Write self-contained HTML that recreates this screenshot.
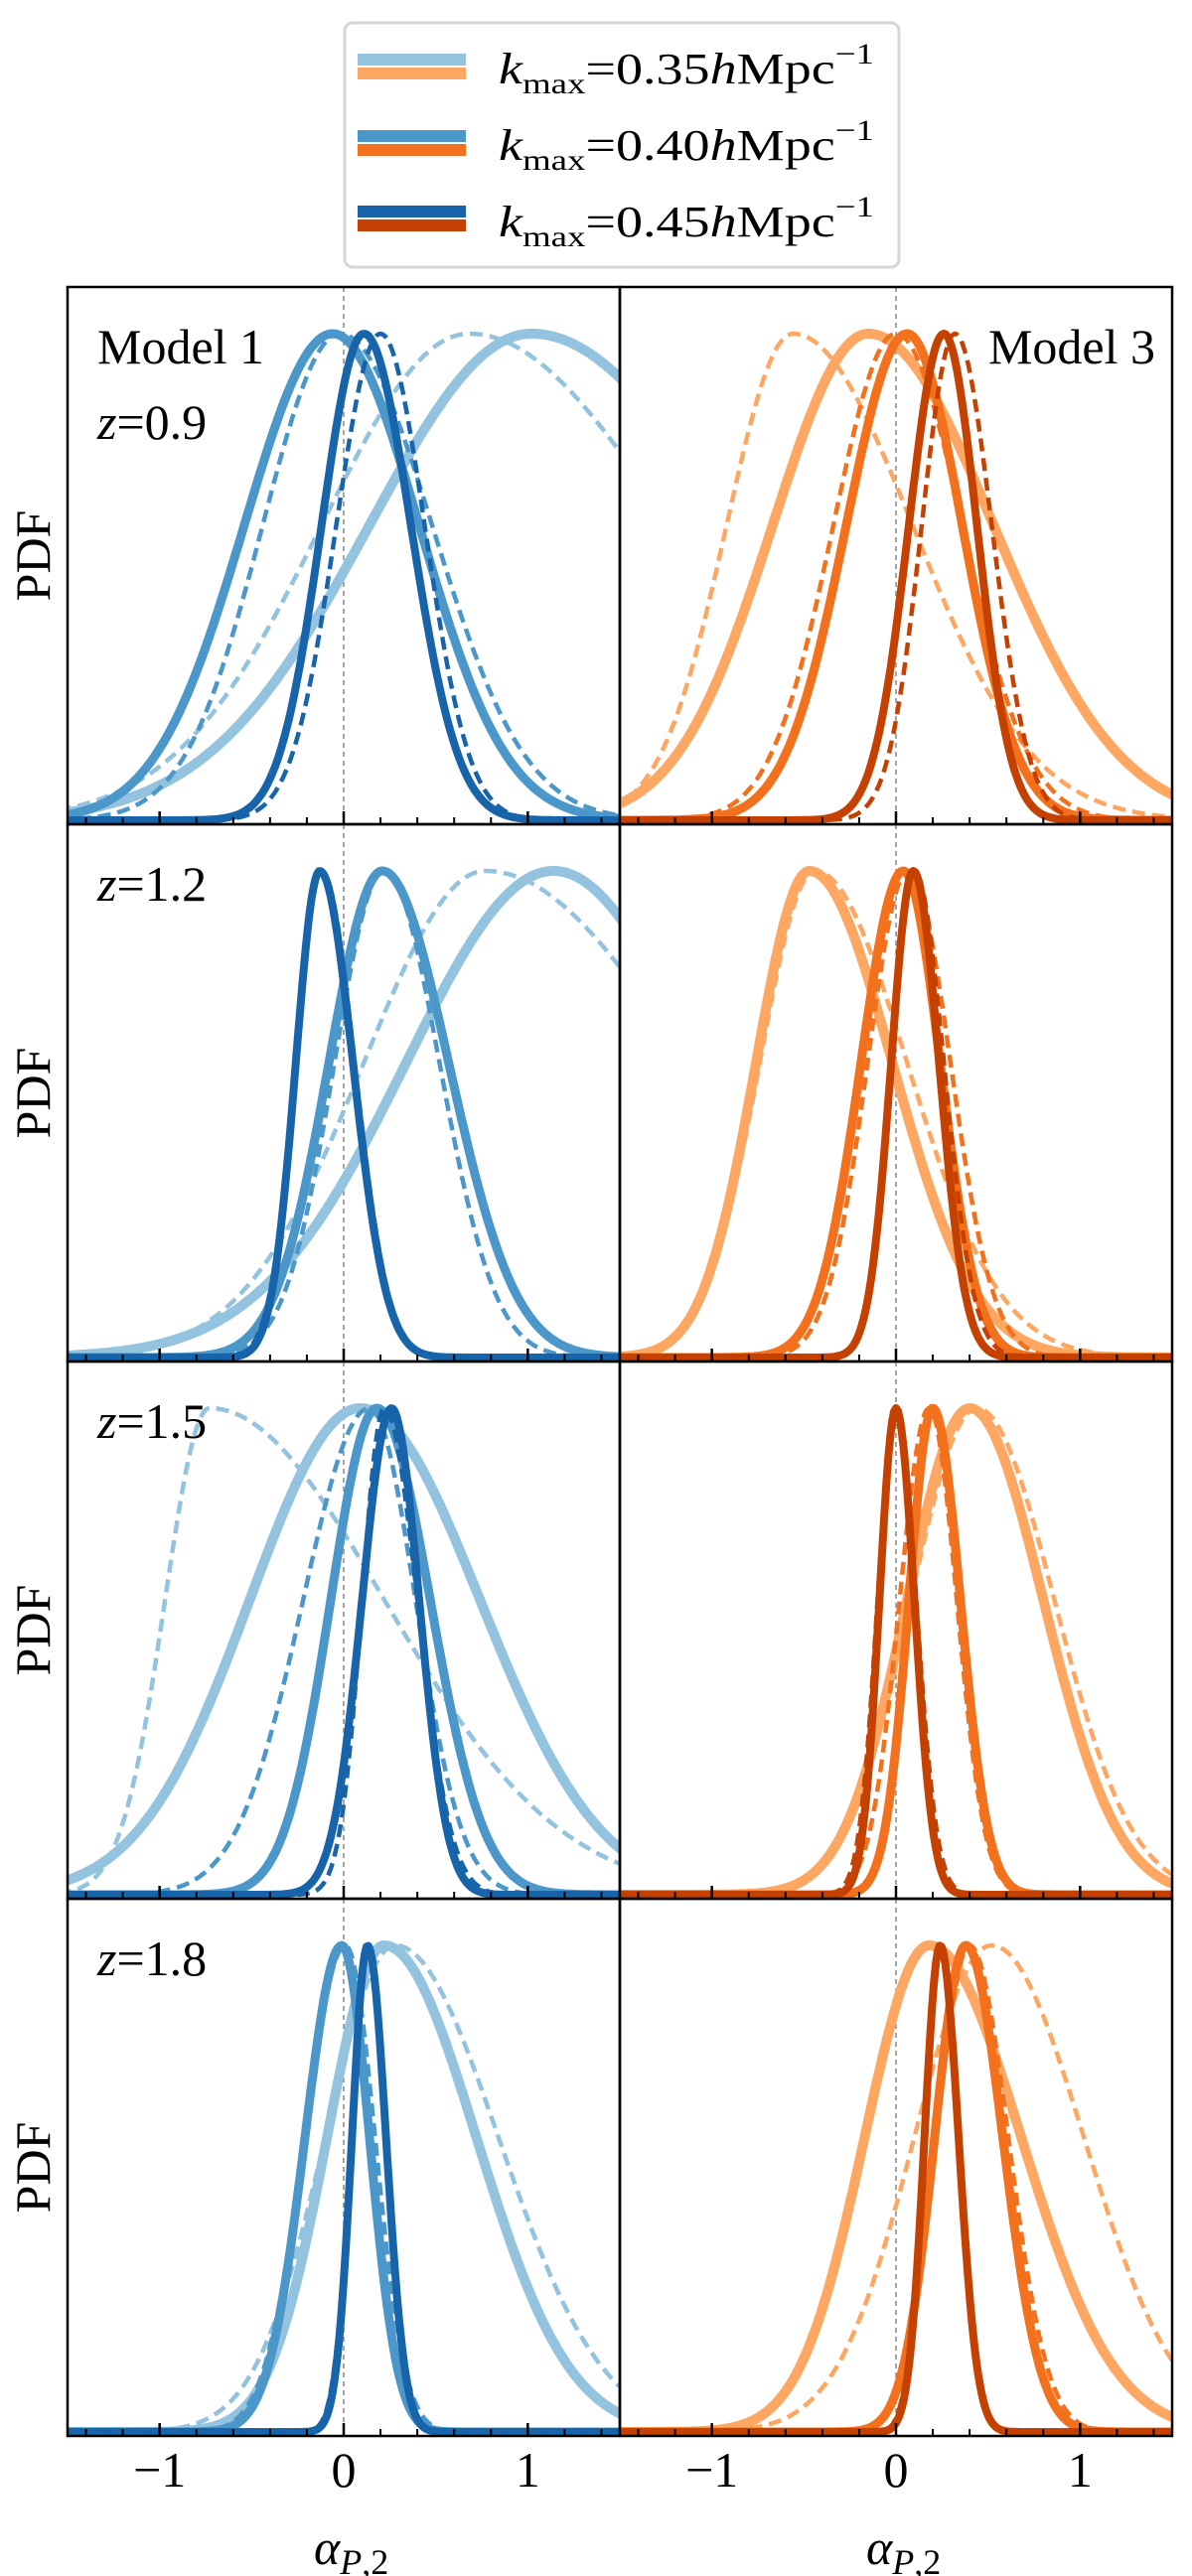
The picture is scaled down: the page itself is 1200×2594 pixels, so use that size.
<!DOCTYPE html>
<html><head><meta charset="utf-8"><style>
html,body{margin:0;padding:0;background:#fff;}
svg{display:block;}
text{font-family:"Liberation Serif",serif;fill:#000;}
</style></head><body>
<svg id="fig" width="1200" height="2594" viewBox="0 0 1200 2594" xmlns="http://www.w3.org/2000/svg">
<g id="legend">
  <rect x="347" y="23" width="558" height="246" rx="8" fill="#fff" stroke="#d6d6d6" stroke-width="3"/>
  <rect x="360" y="54" width="109" height="12" fill="#93c3df"/><rect x="360" y="68" width="109" height="12" fill="#fda762"/>
  <rect x="360" y="131" width="109" height="12" fill="#4b97c9"/><rect x="360" y="145" width="109" height="12" fill="#f3711c"/>
  <rect x="360" y="207" width="109" height="12" fill="#1764ab"/><rect x="360" y="221" width="109" height="12" fill="#c54102"/>
  <text x="502" y="84" font-size="44" textLength="378" lengthAdjust="spacingAndGlyphs"><tspan font-style="italic">k</tspan><tspan font-size="30" dy="10">max</tspan><tspan dy="-10">=0.35</tspan><tspan font-style="italic">h</tspan><tspan>Mpc</tspan><tspan font-size="30" dy="-20">−1</tspan></text>
  <text x="502" y="161" font-size="44" textLength="378" lengthAdjust="spacingAndGlyphs"><tspan font-style="italic">k</tspan><tspan font-size="30" dy="10">max</tspan><tspan dy="-10">=0.40</tspan><tspan font-style="italic">h</tspan><tspan>Mpc</tspan><tspan font-size="30" dy="-20">−1</tspan></text>
  <text x="502" y="238" font-size="44" textLength="378" lengthAdjust="spacingAndGlyphs"><tspan font-style="italic">k</tspan><tspan font-size="30" dy="10">max</tspan><tspan dy="-10">=0.45</tspan><tspan font-style="italic">h</tspan><tspan>Mpc</tspan><tspan font-size="30" dy="-20">−1</tspan></text>
</g>
<g id="panels"></g>
</svg>
<script>
// x ticks
const majorTicks = [-1, 0, 1];
const minorTicks = [-1.4,-1.2,-0.8,-0.6,-0.4,-0.2,0.2,0.4,0.6,0.8,1.2,1.4];
const zLabels = ["0.9","1.2","1.5","1.8"];
const modelLabels = ["Model 1","Model 3"];
// curve order: light solid, light dashed, mid solid, mid dashed, dark solid, dark dashed
const m1z09Mu = [1.02, 0.68, -0.06, -0.02, 0.11, 0.20];
const m1z09SL = [0.88, 0.8, 0.48, 0.42, 0.23, 0.24];
const m1z09SR = [1.1, 1.1, 0.47, 0.5, 0.255, 0.24];
const m1z12Mu = [1.14, 0.77, 0.21, 0.22, -0.13, -0.12];
const m1z12SL = [0.8, 0.66, 0.29, 0.27, 0.13, 0.14];
const m1z12SR = [0.8, 1.1, 0.36, 0.3, 0.18, 0.18];
const m1z15Mu = [0.09, -0.73, 0.18, 0.14, 0.26, 0.22];
const m1z15SL = [0.6, 0.24, 0.25, 0.36, 0.16, 0.12];
const m1z15SR = [0.65, 0.95, 0.29, 0.25, 0.15, 0.18];
const m1z18Mu = [0.22, 0.28, -0.01, 0.01, 0.13, 0.13];
const m1z18SL = [0.31, 0.38, 0.2, 0.22, 0.085, 0.09];
const m1z18SR = [0.5, 0.56, 0.15, 0.16, 0.1, 0.1];
const m3z09Mu = [-0.15, -0.56, 0.06, 0.0, 0.26, 0.32];
const m3z09SL = [0.52, 0.36, 0.33, 0.34, 0.19, 0.18];
const m3z09SR = [0.68, 0.65, 0.3, 0.36, 0.18, 0.2];
const m3z12Mu = [-0.47, -0.44, 0.04, 0.066, 0.094, 0.1];
const m3z12SL = [0.29, 0.3, 0.23, 0.22, 0.12, 0.12];
const m3z12SR = [0.45, 0.5, 0.2, 0.23, 0.14, 0.16];
const m3z15Mu = [0.4, 0.44, 0.2, 0.18, 0.0, 0.0];
const m3z15SL = [0.34, 0.36, 0.13, 0.16, 0.09, 0.1];
const m3z15SR = [0.4, 0.42, 0.15, 0.15, 0.1, 0.11];
const m3z18Mu = [0.18, 0.52, 0.38, 0.4, 0.24, 0.24];
const m3z18SL = [0.35, 0.42, 0.17, 0.18, 0.085, 0.09];
const m3z18SR = [0.5, 0.5, 0.2, 0.21, 0.1, 0.1];

const panelSets = [
  [[m1z09Mu,m1z09SL,m1z09SR],[m3z09Mu,m3z09SL,m3z09SR]],
  [[m1z12Mu,m1z12SL,m1z12SR],[m3z12Mu,m3z12SL,m3z12SR]],
  [[m1z15Mu,m1z15SL,m1z15SR],[m3z15Mu,m3z15SL,m3z15SR]],
  [[m1z18Mu,m1z18SL,m1z18SR],[m3z18Mu,m3z18SL,m3z18SR]]
];
const blues = ["#93c3df","#93c3df","#4b97c9","#4b97c9","#1764ab","#1764ab"];
const oranges = ["#fda762","#fda762","#f3711c","#f3711c","#c54102","#c54102"];
const dashed = [false,true,false,true,false,true];
const widths = [10,4.5,9,4.5,8,4.5];
const seriesNames = ["kmax-035-solid","kmax-035-dashed","kmax-040-solid","kmax-040-dashed","kmax-045-solid","kmax-045-dashed"];

const NS = "http://www.w3.org/2000/svg";
const g = document.getElementById("panels");
const PX0 = [68, 624], PW = 556, TOP0 = 289, PH = 541;
function mk(tag, attrs){const e=document.createElementNS(NS,tag);for(const k in attrs)e.setAttribute(k,attrs[k]);return e;}
function xScale(c, u){return PX0[c] + (u + 1.5) / 3 * PW;}
function yScale(r, h){return TOP0 + (r + 1) * PH - 4 - h * 490;}
function pdf(u, mu, sl, sr){const s = u < mu ? sl : sr; return Math.exp(-0.5 * ((u - mu) / s) ** 2);}

const defs = mk("defs", {});
g.appendChild(defs);
for (let r = 0; r < 4; r++) {
  for (let c = 0; c < 2; c++) {
    const x0 = PX0[c], y0 = TOP0 + r * PH;
    const cp = mk("clipPath", {id: "cp" + r + c});
    cp.appendChild(mk("rect", {x: x0, y: y0, width: PW, height: PH}));
    defs.appendChild(cp);
    const pg = mk("g", {"clip-path": "url(#cp" + r + c + ")"});
    
    
    g.appendChild(pg);
    const zl = mk("line", {x1: xScale(c, 0), x2: xScale(c, 0), y1: y0, y2: y0 + PH, stroke: "#888", "stroke-width": 1.5, "stroke-dasharray": "5,4"});
    
    
    pg.appendChild(zl);
    const [mus, sls, srs] = panelSets[r][c];
    const cols = c ? oranges : blues;
    for (let i = 0; i < 6; i++) {
      let d = "";
      for (let k = 0; k <= 300; k++) {
        const u = -1.55 + k * 3.1 / 300;
        d += (k ? "L" : "M") + xScale(c, u).toFixed(1) + "," + yScale(r, pdf(u, mus[i], sls[i], srs[i])).toFixed(1);
      }
      const p = mk("path", {d: d, fill: "none", stroke: cols[i], "stroke-width": widths[i], "stroke-linejoin": "round"});
      if (dashed[i]) p.setAttribute("stroke-dasharray", "13,7");
      
      
      pg.appendChild(p);
    }
    for (const t of majorTicks) {
      const tl = mk("line", {x1: xScale(c, t), x2: xScale(c, t), y1: y0 + PH, y2: y0 + PH - 13, stroke: "#000", "stroke-width": 2.5});
      
      
      g.appendChild(tl);
    }
    for (const t of minorTicks) {
      const tl = mk("line", {x1: xScale(c, t), x2: xScale(c, t), y1: y0 + PH, y2: y0 + PH - 7, stroke: "#000", "stroke-width": 2});
      
      
      g.appendChild(tl);
    }
    const fr = mk("rect", {x: x0, y: y0, width: PW, height: PH, fill: "none", stroke: "#000", "stroke-width": 2.5});
    
    
    g.appendChild(fr);
    if (r === 3) {
      for (const t of majorTicks) {
        const tx = mk("text", {x: xScale(c, t), y: 2504, "font-size": 50, "text-anchor": "middle"});
        tx.textContent = t < 0 ? "−" + Math.abs(t) : String(t);
        
        
        g.appendChild(tx);
      }
      const xl = mk("text", {x: xScale(c, 0) - 30, y: 2582, "font-size": 50});
      xl.innerHTML = '<tspan font-style="italic">α</tspan><tspan font-size="36" dy="10" font-style="italic">P</tspan><tspan font-size="36">,2</tspan>';
      
      
      g.appendChild(xl);
    }
  }
  const yl = mk("text", {x: 0, y: 0, "font-size": 50, "text-anchor": "middle", transform: "translate(50," + (TOP0 + r * PH + PH / 2) + ") rotate(-90)"});
  yl.textContent = "PDF";
  
  
  g.appendChild(yl);
  const zt = mk("text", {x: 98, y: TOP0 + r * PH + (r === 0 ? 153 : 77), "font-size": 50});
  zt.innerHTML = '<tspan font-style="italic">z</tspan>=' + zLabels[r];
  
  
  g.appendChild(zt);
}
const m1 = mk("text", {x: 98, y: 366, "font-size": 50});
m1.textContent = modelLabels[0];


g.appendChild(m1);
const m3 = mk("text", {x: 1163, y: 366, "font-size": 50, "text-anchor": "end"});
m3.textContent = modelLabels[1];


g.appendChild(m3);
</script>
</body></html>
